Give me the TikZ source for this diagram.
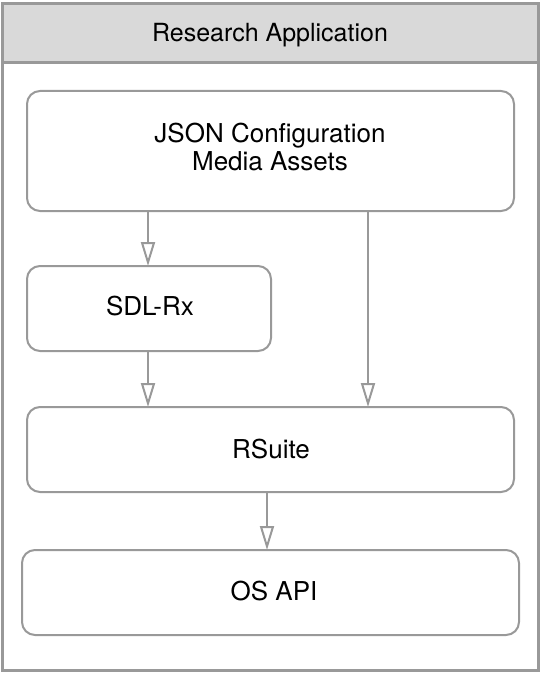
\documentclass[tikz,border=0pt]{standalone}
\usepackage{fontspec}
\setmainfont{TeX Gyre Heros}
\usetikzlibrary{arrows.meta}
\definecolor{lineg}{HTML}{999999}
\definecolor{headg}{HTML}{D9D9D9}
\begin{document}
\begin{tikzpicture}[x=1pt,y=-1pt,
  box/.style={draw=lineg,line width=2pt,rounded corners=13pt,fill=white},
  lbl/.style={font=\fontsize{26}{28}\selectfont,text=black,align=center,inner sep=0pt},
  conn/.style={draw=lineg,line width=2pt,-{Triangle[open,length=24pt,width=14pt,line width=2pt]}}]
\useasboundingbox (0,0) rectangle (540,674);
\fill[white] (0,0) rectangle (540,674);
\draw[lineg,line width=3pt,fill=white] (2,4) rectangle (538,670);
\draw[lineg,line width=3pt,fill=headg] (2,4) rectangle (538,63);
\node[lbl,font=\fontsize{25}{28}\selectfont,anchor=base] (title) at (270,41.7) {Research Application};
\draw[box] (27,91) rectangle (514,211);
\node[lbl] (json) at (270,146.5) {JSON Configuration\\Media Assets};
\draw[box] (27,266) rectangle (271,351);
\node[lbl,anchor=base] (sdl) at (150,315) {SDL-Rx};
\draw[box] (27,407) rectangle (514,492);
\node[lbl,anchor=base] (rsuite) at (271,458.3) {RSuite};
\draw[box] (22,550) rectangle (519,635);
\node[lbl,anchor=base] (os) at (274,600) {OS API};
\coordinate (a1s) at (148,211);
\coordinate (a1e) at (148,266);
\coordinate (a2s) at (148,351);
\coordinate (a2e) at (148,407);
\coordinate (a3s) at (368,211);
\coordinate (a3e) at (368,407);
\coordinate (a4s) at (267,492);
\coordinate (a4e) at (267,550);
\draw[conn] (a1s) -- (a1e);
\draw[conn] (a2s) -- (a2e);
\draw[conn] (a3s) -- (a3e);
\draw[conn] (a4s) -- (a4e);
\end{tikzpicture}
\end{document}
